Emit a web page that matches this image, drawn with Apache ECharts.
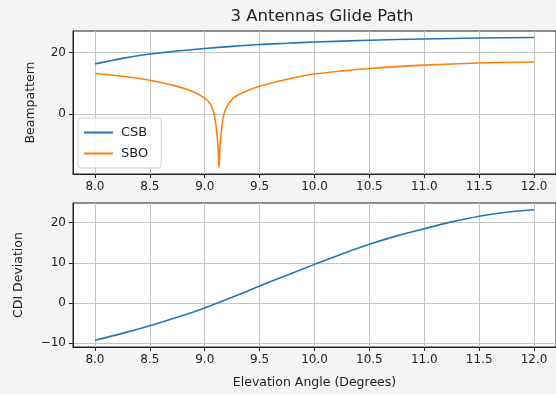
<!DOCTYPE html>
<html>
<head>
<meta charset="utf-8">
<script src="https://cdn.jsdelivr.net/npm/echarts@6/dist/echarts.min.js"></script>
<style>
html,body{margin:0;padding:0;background:#f4f4f4;}
#c{width:556px;height:394px;}
</style>
</head>
<body>
<div id="c"></div>
<script>
// ---- data ----
const xTicks = [8.0, 8.5, 9.0, 9.5, 10.0, 10.5, 11.0, 11.5, 12.0];
const topYTicks = [0, 20];
const bottomYTicks = [-10, 0, 10, 20];

const csbX = [8.0, 8.25, 8.5, 8.75, 9.0, 9.25, 9.5, 9.75, 10.0, 10.5, 11.0, 11.5, 12.0];
const csbY = [16.3, 18.1, 19.5, 20.5, 21.3, 22.0, 22.6, 23.0, 23.4, 24.0, 24.4, 24.7, 24.9];

const sboX = [8.0, 8.25, 8.5, 8.75, 8.9, 9.0, 9.05, 9.08, 9.1, 9.12, 9.13, 9.14, 9.16, 9.18, 9.21, 9.26, 9.35, 9.5, 9.75, 10.0, 10.5, 11.0, 11.5, 12.0];
const sboY = [13.2, 12.3, 11.0, 9.0, 7.2, 5.2, 3.3, 0.8, -3.0, -10, -17.5, -10, -3.0, 0.5, 3.0, 5.2, 7.0, 9.0, 11.3, 13.0, 14.8, 15.9, 16.6, 16.9];

const cdiX = [8.0, 8.25, 8.5, 8.75, 9.0, 9.25, 9.5, 9.75, 10.0, 10.25, 10.5, 10.75, 11.0, 11.25, 11.5, 11.75, 12.0];
const cdiY = [-9.3, -7.6, -5.7, -3.6, -1.25, 1.4, 4.2, 6.9, 9.6, 12.2, 14.6, 16.7, 18.5, 20.2, 21.6, 22.6, 23.2];

const pairs = (xs, ys) => xs.map((x, i) => [x, ys[i]]);

const FONT = 'DejaVu Sans';
const txt = '#222';
const gridLine = {show: true, lineStyle: {color: '#c4c4c4', width: 1}};

function xAxisCfg(gridIndex, name) {
  return {
    type: 'value', gridIndex, min: 7.8, max: 12.2,
    name: name || '', nameLocation: 'middle', nameGap: 29,
    nameTextStyle: {fontFamily: FONT, fontSize: 12.5, color: txt},
    axisLine: {show: true, onZero: false, lineStyle: {color: txt}},
    axisTick: {show: true, length: 4, lineStyle: {color: txt}, customValues: xTicks},
    axisLabel: {fontFamily: FONT, fontSize: 12, color: txt, margin: 7, customValues: xTicks,
      formatter: v => v.toFixed(1)},
    splitLine: gridLine
  };
}
function yAxisCfg(gridIndex, min, max, ticks, name, gap) {
  return {
    type: 'value', gridIndex, min, max,
    name, nameLocation: 'middle', nameGap: gap, nameRotate: 90,
    nameTextStyle: {fontFamily: FONT, fontSize: 12.5, color: txt},
    axisLine: {show: true, onZero: false, lineStyle: {color: txt}},
    axisTick: {show: true, length: 4, lineStyle: {color: txt}, customValues: ticks},
    axisLabel: {fontFamily: FONT, fontSize: 12, color: txt, margin: 7, customValues: ticks,
      formatter: v => (v < 0 ? '\u2212' + Math.abs(v) : String(v))},
    splitLine: gridLine
  };
}

const chart = echarts.init(document.getElementById('c'), null, {renderer: 'canvas'});
chart.setOption({
  backgroundColor: '#f4f4f4',
  animation: false,
  title: {
    text: '3 Antennas Glide Path', left: 317, textAlign: 'center', top: 3,
    textStyle: {fontFamily: FONT, fontSize: 16.5, fontWeight: 'normal', color: txt}
  },
  legend: {
    left: 78, top: 118, orient: 'vertical',
    data: ['CSB', 'SBO'],
    icon: 'rect', itemWidth: 29, itemHeight: 2, itemGap: 8,
    padding: [8, 13, 8, 6],
    backgroundColor: 'rgba(255,255,255,0.85)',
    borderColor: '#d0d0d0', borderWidth: 1, borderRadius: 3,
    textStyle: {fontFamily: FONT, fontSize: 13, color: txt, padding: [0, 0, 0, 3]}
  },
  grid: [
    {left: 73, top: 31, width: 489, height: 143, show: true, backgroundColor: '#fff', borderColor: txt, borderWidth: 1},
    {left: 73, top: 203, width: 489, height: 144, show: true, backgroundColor: '#fff', borderColor: txt, borderWidth: 1}
  ],
  xAxis: [xAxisCfg(0), xAxisCfg(1, 'Elevation Angle (Degrees)')],
  yAxis: [
    yAxisCfg(0, -19.5, 27, topYTicks, 'Beampattern', 36),
    yAxisCfg(1, -11, 24.9, bottomYTicks, 'CDI Deviation', 48)
  ],
  series: [
    {name: 'CSB', type: 'line', xAxisIndex: 0, yAxisIndex: 0, data: pairs(csbX, csbY),
      showSymbol: false, symbol: 'none', smooth: 0.3, lineStyle: {color: '#1f77b4', width: 1.6}, itemStyle: {color: '#1f77b4'}},
    {name: 'SBO', type: 'line', xAxisIndex: 0, yAxisIndex: 0, data: pairs(sboX, sboY),
      showSymbol: false, symbol: 'none', smooth: 0.3, lineStyle: {color: '#ff7f0e', width: 1.6}, itemStyle: {color: '#ff7f0e'}},
    {name: 'CDI', type: 'line', xAxisIndex: 1, yAxisIndex: 1, data: pairs(cdiX, cdiY),
      showSymbol: false, symbol: 'none', smooth: 0.3, lineStyle: {color: '#1f77b4', width: 1.6}, itemStyle: {color: '#1f77b4'}}
  ]
});
</script>
</body>
</html>
